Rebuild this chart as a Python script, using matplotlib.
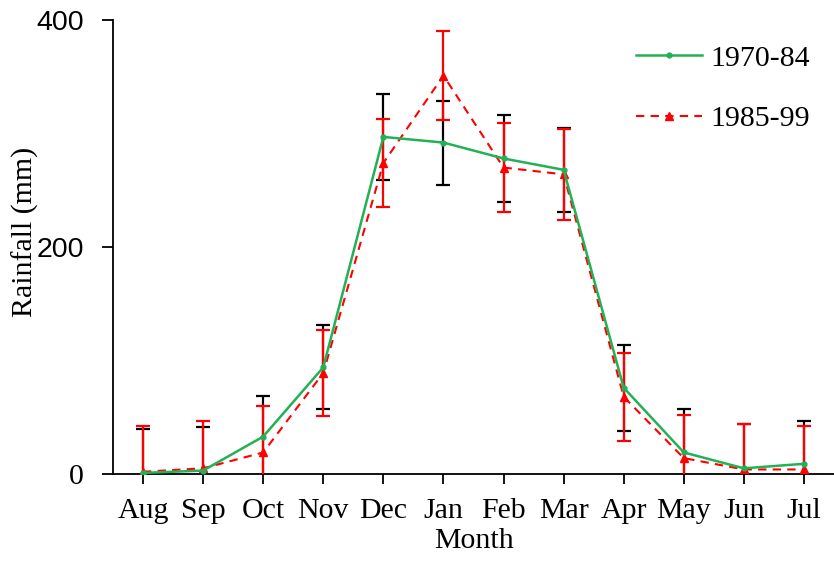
import matplotlib
matplotlib.use('Agg')
import matplotlib.pyplot as plt

months = ['Aug', 'Sep', 'Oct', 'Nov', 'Dec', 'Jan', 'Feb', 'Mar', 'Apr', 'May', 'Jun', 'Jul']
rain_7084 = [1, 3, 33, 94, 297, 292, 278, 268, 76, 19, 5, 9]
err_7084 = [39, 38, 36, 37, 38, 37, 38, 37, 38, 38, 39, 38]
rain_8599 = [2, 5, 19, 89, 274, 351, 270, 264, 68, 14, 4, 4]
err_8599 = [40, 42, 41, 38, 39, 39, 39, 40, 39, 38, 40, 38]
yticks = [0, 200, 400]

plt.rcParams['font.family'] = ['Liberation Serif', 'DejaVu Serif']
fs = 21.5

fig = plt.figure(figsize=(8.34, 5.61), dpi=100)
ax = fig.add_axes([113/834, 87/561, 721/834, 454/561])
x = list(range(len(months)))

ax.errorbar(x, rain_7084, yerr=err_7084, fmt='none', ecolor='black',
            elinewidth=1.6, capsize=5, capthick=1.6, zorder=2)
ax.errorbar(x, rain_8599, yerr=err_8599, fmt='none', ecolor='red',
            elinewidth=1.6, capsize=5, capthick=1.6, zorder=3)
ax.plot(x, rain_8599, color='red', linestyle=(0, (4, 3)), linewidth=1.5,
        marker='^', markersize=5.5, markerfacecolor='red', label='1985-99', zorder=4)
ax.plot(x, rain_7084, color='#22b155', linewidth=1.8,
        marker='o', markersize=3.5, label='1970-84', zorder=5)

ax.set_xlim(-0.5, 11.5)
ax.set_ylim(0, 400)
ax.set_yticks(yticks)
ax.set_yticklabels([str(v) for v in yticks])
ax.set_xticks(x)
ax.set_xticklabels(months)
ax.tick_params(axis='both', direction='out', width=1.3, labelsize=fs)
ax.tick_params(axis='x', length=7, pad=10)
ax.tick_params(axis='y', length=8, pad=13)
# the 200 and 400 labels look sans in the original, the 0 serif
for lab in ax.get_yticklabels():
    if lab.get_text() != '0':
        lab.set_fontfamily(['Liberation Sans', 'DejaVu Sans'])
        lab.set_fontsize(20.5)
for s in ['top', 'right']:
    ax.spines[s].set_visible(False)
ax.spines['left'].set_linewidth(1.3)
ax.spines['bottom'].set_linewidth(1.3)

ax.set_xlabel('Month', fontsize=fs, labelpad=3)
ax.set_ylabel('Rainfall (mm)', fontsize=fs)
ax.yaxis.set_label_coords(-0.103, 0.533)

handles, labels = ax.get_legend_handles_labels()
ax.legend(handles[::-1], labels[::-1], loc='upper left',
          bbox_to_anchor=(624/834, 1 - 33/561), bbox_transform=fig.transFigure,
          borderaxespad=0, frameon=False, fontsize=fs, handlelength=2.2,
          handletextpad=0.3, labelspacing=1.12)

fig.savefig('out.png', dpi=100)
